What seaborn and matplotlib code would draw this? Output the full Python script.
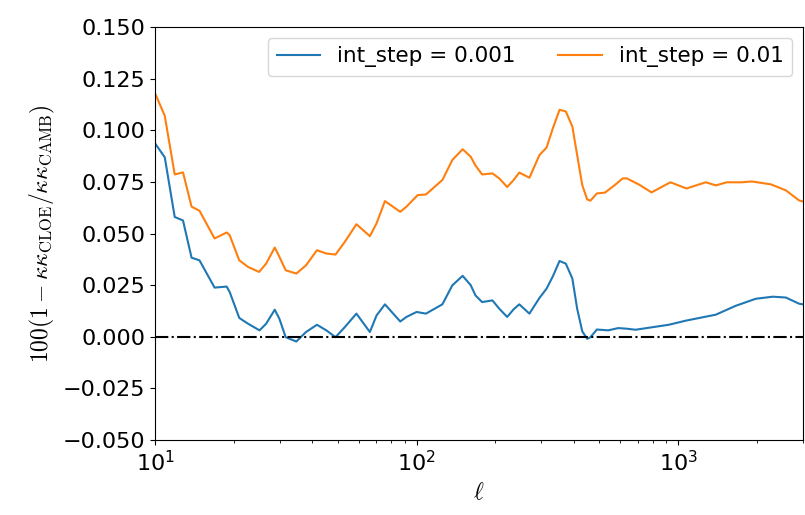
import matplotlib
matplotlib.use("Agg")
import matplotlib.pyplot as plt
import seaborn as sns
import pandas as pd

# values (ell, 100*(1 - ratio))
ell_fine = [10, 10.9, 11.9, 12.8, 13.8, 14.8, 16.9, 18.8, 19.3, 21, 22.7, 25.1,
            26.6, 28.7, 29.9, 31.6, 34.7, 37.8, 41.6, 45.2, 49, 53.2, 58.9, 66.3,
            70.3, 75.7, 86.6, 91.5, 100, 108.6, 125.5, 137, 150, 161, 168, 178,
            195, 207, 222, 235, 247, 270, 295, 314, 332, 352, 372, 394, 411, 430,
            449, 462, 489, 540, 590, 636, 687, 920, 1070, 1393, 1660, 1980, 2300,
            2580, 2900, 3000]
diff_fine = [0.0937, 0.0869, 0.058, 0.0563, 0.0383, 0.037, 0.0238, 0.0243, 0.0217,
             0.0091, 0.0063, 0.0031, 0.0063, 0.0131, 0.0087, -0.0002, -0.0023,
             0.0023, 0.0058, 0.0031, -0.0002, 0.0047, 0.0112, 0.0023, 0.0103,
             0.0157, 0.0074, 0.0096, 0.012, 0.0112, 0.0157, 0.0249, 0.0295, 0.025,
             0.02, 0.0168, 0.0176, 0.0136, 0.0096, 0.0133, 0.0157, 0.0112, 0.0188,
             0.0233, 0.0293, 0.0367, 0.0354, 0.0282, 0.0136, 0.0026, -0.001,
             -0.0002, 0.0035, 0.0031, 0.0042, 0.0039, 0.0034, 0.0058, 0.0078,
             0.0107, 0.015, 0.0184, 0.0194, 0.019, 0.016, 0.0157]

ell_coarse = [10, 10.9, 11.9, 12.8, 13.8, 14.8, 16.9, 18.8, 19.3, 21, 22.7, 25,
              26.6, 28.7, 29.9, 31.6, 34.7, 37.8, 41.6, 45.2, 49, 53.2, 58.9, 66.3,
              70.3, 75.7, 86.6, 91.5, 101, 108.6, 125.5, 137, 150, 161, 168, 178,
              195, 207, 222, 235, 247, 270, 295, 314, 332, 352, 372, 394, 411, 430,
              449, 462, 489, 525, 572, 614, 636, 706, 791, 934, 1076, 1275, 1393,
              1534, 1750, 1913, 2260, 2580, 2900, 3000]
diff_coarse = [0.118, 0.107, 0.0786, 0.0796, 0.063, 0.061, 0.0476, 0.0505, 0.0492,
               0.037, 0.0338, 0.0314, 0.0354, 0.0432, 0.0387, 0.0322, 0.0306,
               0.0346, 0.0419, 0.0403, 0.0398, 0.046, 0.0545, 0.0487, 0.0549,
               0.0657, 0.0605, 0.063, 0.0686, 0.0689, 0.0759, 0.0856, 0.0908,
               0.0872, 0.0829, 0.0786, 0.0791, 0.0767, 0.0725, 0.0759, 0.0795,
               0.077, 0.088, 0.0916, 0.101, 0.1099, 0.1091, 0.1018, 0.088, 0.0734,
               0.0665, 0.0659, 0.0694, 0.0698, 0.0734, 0.0767, 0.0767, 0.0738,
               0.0699, 0.0748, 0.0718, 0.0748, 0.0733, 0.0748, 0.0748, 0.0752,
               0.0738, 0.0709, 0.066, 0.0655]

labels = ["int_step = 0.001", "int_step = 0.01"]

df = pd.concat([
    pd.DataFrame({"ell": ell_fine, "diff": diff_fine, "run": labels[0]}),
    pd.DataFrame({"ell": ell_coarse, "diff": diff_coarse, "run": labels[1]}),
])

plt.rcParams["mathtext.fontset"] = "cm"

fig = plt.figure(figsize=(8.05, 5.15), dpi=100)
ax = fig.add_axes([0.1925, 0.1456, 0.805, 0.802])

sns.lineplot(data=df, x="ell", y="diff", hue="run", hue_order=labels,
             palette=["#1f77b4", "#ff7f0e"], linewidth=1.5, ax=ax, sort=False)
ax.axhline(0, color="k", ls="-.", lw=1.5)

ax.set_xscale("log")
ax.set_xlim(10, 3000)
ax.set_ylim(-0.05, 0.15)
ax.set_yticks([-0.05, -0.025, 0, 0.025, 0.05, 0.075, 0.1, 0.125, 0.15])
ax.tick_params(labelsize=16)
ax.set_xlabel(r"$\ell$", fontsize=17)
ax.set_ylabel(r"$100(1-\kappa\kappa_{\rm CLOE}/\kappa\kappa_{\rm CAMB})$", fontsize=17)
ax.legend(title=None, ncol=2, loc="upper right", fontsize=15.5)

fig.savefig("out.png", dpi=100)
